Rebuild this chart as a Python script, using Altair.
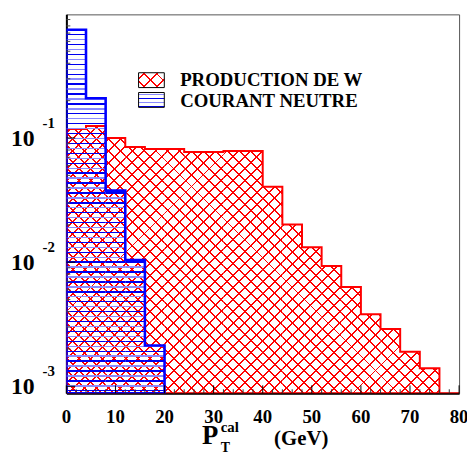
import math
import altair as alt
import pandas as pd

# ---------------- data ----------------
bin_width = 4
w_edges = [0, 4, 8, 12, 16, 20, 24, 28, 32, 36, 40, 44, 48, 52, 56, 60, 64, 68, 72, 76]
w_values = [0.118, 0.125, 0.100, 0.0847, 0.0817, 0.0817, 0.077, 0.077, 0.0787, 0.0787,
            0.0405, 0.0201, 0.0132, 0.0093, 0.0063, 0.0038, 0.0029, 0.0019, 0.0014, 0.0006]
nc_edges = [0, 4, 8, 12, 16]
nc_values = [0.745, 0.209, 0.0377, 0.0104, 0.00213]

x_major = [0, 10, 20, 30, 40, 50, 60, 70, 80]
x_minor = [2, 4, 6, 8, 12, 14, 16, 18, 22, 24, 26, 28, 32, 34, 36, 38, 42, 44, 46, 48,
           52, 54, 56, 58, 62, 64, 66, 68, 72, 74, 76, 78]
y_major = [0.001, 0.01, 0.1]
y_exponents = ["-3", "-2", "-1"]
y_minor = [0.002, 0.003, 0.004, 0.005, 0.006, 0.007, 0.008, 0.009,
           0.02, 0.03, 0.04, 0.05, 0.06, 0.07, 0.08, 0.09,
           0.2, 0.3, 0.4, 0.5, 0.6, 0.7, 0.8, 0.9]
legend_labels = ["PRODUCTION DE W", "COURANT NEUTRE"]

# ---------------- layout / style ----------------
W, H = 397, 383
XMIN, XMAX = 0, 80
YMIN, YMAX = 10 ** -3.056, 10 ** -0.004
FONT = "Liberation Serif"
RED = "#ff0000"
BLUE = "#0000ff"
BLUE_DARK = "#0000f0"
BLUE_LIGHT = "#8a8aff"
CLEAR = "rgba(255,255,255,0)"
HATCH_P = 12      # cross-hatch period (px, along x)
STRIPE_P = 5      # horizontal stripe period (px)


def ypix(v):
    return H * (math.log10(YMAX) - math.log10(v)) / (math.log10(YMAX) - math.log10(YMIN))


def xpix(v):
    return W * (v - XMIN) / (XMAX - XMIN)


def stops_from(centers, half, colors):
    st = [alt.GradientStop(offset=0, color=CLEAR)]
    last = 0.0
    for c, col in zip(centers, colors):
        s = max(last, min(1.0, round(c - half, 6)))
        e = max(s, min(1.0, round(c + half, 6)))
        st += [alt.GradientStop(offset=s, color=CLEAR), alt.GradientStop(offset=s, color=col),
               alt.GradientStop(offset=e, color=col), alt.GradientStop(offset=e, color=CLEAR)]
        last = e
    st.append(alt.GradientStop(offset=1, color=CLEAR))
    return st


def rect_diag(X0, X1, T, B, P, half_u, color, direction, c=0.5):
    """diagonal lines aligned on the global lattice px+py (dir 1) or px-py (dir 2)."""
    w, h = X1 - X0, B - T
    tot = w + h
    lo = X0 + T if direction == 1 else X0 - B
    k0 = math.floor((lo - half_u - c) / P) - 1
    k1 = math.ceil((lo + tot + half_u - c) / P) + 1
    centers = [(c + k * P - lo) / tot for k in range(k0, k1 + 1)]
    centers = [t for t in centers if -half_u / tot < t < 1 + half_u / tot]
    stops = stops_from(centers, half_u / tot, [color] * len(centers))
    gx = tot * w / (w * w + h * h)
    gy = tot * h / (w * w + h * h)
    if direction == 1:
        return alt.LinearGradient(gradient="linear", stops=stops, x1=0, y1=0, x2=gx, y2=gy)
    return alt.LinearGradient(gradient="linear", stops=stops, x1=0, y1=1, x2=gx, y2=1 - gy)


def rect_horiz(T, B, P, thick, colors, c=0.5):
    h = B - T
    k0 = math.floor((T - c) / P) - 1
    k1 = math.ceil((B - c) / P) + 1
    cs, cols = [], []
    for k in range(k0, k1 + 1):
        t = (c + k * P - T) / h
        if -thick / h < t < 1 + thick / h:
            cs.append(t)
            cols.append(colors[k % len(colors)])
    return alt.LinearGradient(gradient="linear", stops=stops_from(cs, thick / 2 / h, cols),
                              x1=0, y1=0, x2=0, y2=1)


def box_diag(w, h, period, thick, color, direction, phase=0.5):
    tot = w + h
    n = int(tot / period) + 2
    centers = [(k + phase) * period / tot for k in range(n)]
    centers = [c for c in centers if c < 1]
    half = thick * math.sqrt(2) / 2 / tot
    stops = stops_from(centers, half, [color] * len(centers))
    gx = tot * w / (w * w + h * h)
    gy = tot * h / (w * w + h * h)
    if direction == 1:
        return alt.LinearGradient(gradient="linear", stops=stops, x1=0, y1=0, x2=gx, y2=gy)
    return alt.LinearGradient(gradient="linear", stops=stops, x1=0, y1=1, x2=gx, y2=1 - gy)


def box_horiz(h, period, thick, colors, phase=0.5):
    n = int(h / period) + 1
    centers = [(k + phase) * period / h for k in range(n)]
    centers = [c for c in centers if c < 1]
    cols = [colors[k % len(colors)] for k in range(len(centers))]
    return alt.LinearGradient(gradient="linear", stops=stops_from(centers, thick / 2 / h, cols),
                              x1=0, y1=0, x2=0, y2=1)


# ---------------- scales / encodings ----------------
xs = alt.Scale(domain=[XMIN, XMAX], nice=False, zero=False)
ys = alt.Scale(type="log", domain=[YMIN, YMAX], nice=False)
xax = alt.Axis(labels=False, ticks=False, title=None, grid=False, domainColor="black", domainWidth=2)
yax = alt.Axis(labels=False, ticks=False, title=None, grid=False, domainColor="black", domainWidth=2)

X = alt.X("pt:Q", scale=xs, axis=xax)
Y = alt.Y("v:Q", scale=ys, axis=yax)
Y2 = alt.Y2("base:Q")

layers = []

# ---- W production: cross-hatched bins ----
for lo_edge, val in zip(w_edges, w_values):
    if val <= YMIN:
        continue
    X0, X1 = xpix(lo_edge), xpix(lo_edge + bin_width)
    T, B = ypix(val), H
    df = pd.DataFrame({"pt": [lo_edge], "pt2": [lo_edge + bin_width], "v": [val], "base": [YMIN]})
    for d in (1, 2):
        layers.append(alt.Chart(df).mark_rect(
            clip=True, fill=rect_diag(X0, X1, T, B, HATCH_P, 1.0, RED, d)
        ).encode(x=X, x2=alt.X2("pt2:Q"), y=Y, y2=Y2))

w_df = pd.DataFrame({"pt": w_edges + [XMAX], "v": w_values + [w_values[-1]]})
w_df["base"] = YMIN
layers.append(alt.Chart(w_df).mark_area(
    interpolate="step-after", clip=True, orient="vertical",
    fill=RED, fillOpacity=0, stroke=RED, strokeWidth=2
).encode(x=X, y=Y, y2=Y2))

# ---- neutral current: horizontally striped bins ----
for lo_edge, val in zip(nc_edges, nc_values):
    T, B = ypix(val), H
    df = pd.DataFrame({"pt": [lo_edge], "pt2": [lo_edge + bin_width], "v": [val], "base": [YMIN]})
    layers.append(alt.Chart(df).mark_rect(
        clip=True, fill=rect_horiz(T, B, STRIPE_P, 1.4, [BLUE_DARK, BLUE_LIGHT])
    ).encode(x=X, x2=alt.X2("pt2:Q"), y=Y, y2=Y2))

nc_df = pd.DataFrame({"pt": nc_edges + [nc_edges[-1] + bin_width], "v": nc_values + [nc_values[-1]]})
nc_df["base"] = YMIN
layers.append(alt.Chart(nc_df).mark_area(
    interpolate="step-after", clip=True, orient="vertical",
    fill=BLUE, fillOpacity=0, stroke=BLUE, strokeWidth=2.6
).encode(x=X, y=Y, y2=Y2))

# ---- ticks (inward) ----
xmaj_df = pd.DataFrame({"pt": x_major})
xmin_df = pd.DataFrame({"pt": x_minor})
ymaj_df = pd.DataFrame({"v": y_major, "e": y_exponents, "b": ["10"] * len(y_major)})
ymin_df = pd.DataFrame({"v": y_minor})

layers += [
    alt.Chart(xmaj_df).mark_rule(color="black", strokeWidth=1).encode(
        x=X, y=alt.value(H), y2=alt.value(H - 8)),
    alt.Chart(xmin_df).mark_rule(color="#333", strokeWidth=1).encode(
        x=X, y=alt.value(H), y2=alt.value(H - 4)),
    alt.Chart(ymaj_df).mark_rule(color="black", strokeWidth=1).encode(
        y=Y, x=alt.value(0), x2=alt.value(9)),
    alt.Chart(ymin_df).mark_rule(color="#444", strokeWidth=1).encode(
        y=Y, x=alt.value(0), x2=alt.value(4)),
]

# ---- tick labels ----
layers += [
    alt.Chart(xmaj_df).mark_text(
        font=FONT, fontWeight="bold", fontSize=19, align="center", baseline="alphabetic"
    ).encode(x=X, y=alt.value(413), text=alt.Text("pt:Q", format="d")),
    alt.Chart(ymaj_df).mark_text(
        font=FONT, fontWeight="bold", fontSize=24, align="right", baseline="middle", dy=1
    ).encode(y=Y, x=alt.value(-32), text="b:N"),
    alt.Chart(ymaj_df).mark_text(
        font=FONT, fontWeight="bold", fontSize=15, align="left", baseline="middle", dy=-15
    ).encode(y=Y, x=alt.value(-24), text="e:N"),
]


# ---- axis title  P_T^cal (GeV) ----
def ttext(label, x, y, size):
    return alt.Chart(pd.DataFrame({"t": [label]})).mark_text(
        font=FONT, fontWeight="bold", fontSize=size, align="left", baseline="alphabetic"
    ).encode(x=alt.value(x), y=alt.value(y), text="t:N")


layers += [
    ttext("P", 137, 434, 27),
    ttext("cal", 156, 422, 15),
    ttext("T", 156, 442, 14),
    ttext("(GeV)", 210, 435, 21),
]

# ---- legend ----
leg_w, leg_h = 26, 15
one = pd.DataFrame({"k": [0]})
layers += [
    alt.Chart(one).mark_rect(fill=box_diag(leg_w, leg_h, 13, 1.2, RED, 1)).encode(
        x=alt.value(73), x2=alt.value(73 + leg_w), y=alt.value(59), y2=alt.value(59 + leg_h)),
    alt.Chart(one).mark_rect(fill=box_diag(leg_w, leg_h, 13, 1.2, RED, 2),
                             stroke="black", strokeWidth=1).encode(
        x=alt.value(73), x2=alt.value(73 + leg_w), y=alt.value(59), y2=alt.value(59 + leg_h)),
    alt.Chart(one).mark_rect(fill=box_horiz(leg_h, 4, 1.4, [BLUE_LIGHT, BLUE_DARK]),
                             stroke="black", strokeWidth=1).encode(
        x=alt.value(73), x2=alt.value(73 + leg_w), y=alt.value(79), y2=alt.value(79 + leg_h)),
    alt.Chart(pd.DataFrame({"lab": legend_labels, "yy": [72, 94]})).mark_text(
        font=FONT, fontWeight="bold", fontSize=19, align="left", baseline="alphabetic"
    ).encode(x=alt.value(115), y=alt.Y("yy:Q", scale=None), text="lab:N"),
]

chart = alt.layer(*layers).properties(
    width=W, height=H,
    autosize=alt.AutoSizeParams(type="none"),
    padding={"left": 59, "top": 4, "right": 8, "bottom": 62},
    background="white",
).configure_view(stroke="#555", strokeWidth=1)

chart.save("out.html", embed_options={"renderer": "svg", "actions": False})
